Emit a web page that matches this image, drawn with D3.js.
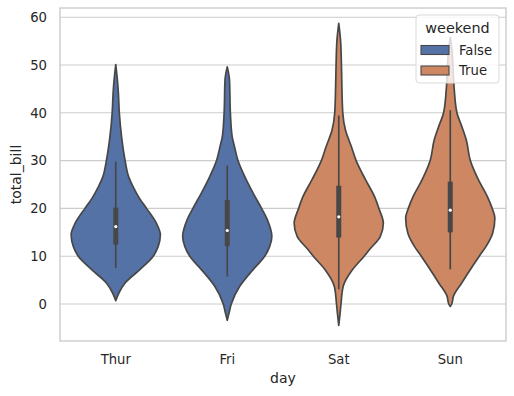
<!DOCTYPE html>
<html><head><meta charset="utf-8">
<script src="https://cdn.jsdelivr.net/npm/d3@7"></script>
<style>body{margin:0;background:#fff}svg{display:block;font-family:"DejaVu Sans",sans-serif}</style>
</head><body><svg id="c" width="514" height="396"></svg>
<script>
const days = ["Thur", "Fri", "Sat", "Sun"];
const weekend = [false, false, true, true];
const hueLevels = ["False", "True"];
const yTicks = [0, 10, 20, 30, 40, 50, 60];
// violin profiles: [total_bill, relative density]
const thurProfile = [[50.1,0],[46,0.045],[43.9,0.06],[40,0.08],[35,0.13],[30,0.21],[26.6,0.29],[24.5,0.39],[22,0.54],[20,0.69],[16.9,0.91],[14.5,1.0],[12,0.95],[10,0.84],[7.2,0.54],[4.4,0.21],[2.3,0.07],[0.7,0]];
const friProfile = [[49.6,0],[46.9,0.05],[40,0.07],[35,0.11],[33,0.16],[30,0.24],[26.7,0.39],[23.2,0.58],[20,0.77],[17.6,0.9],[14.1,1.0],[12,0.95],[10,0.84],[7.2,0.58],[3.7,0.28],[0,0.09],[-1.9,0.04],[-3.4,0]];
const satProfile = [[58.7,0],[55.2,0.04],[50,0.06],[45.5,0.07],[40,0.09],[36.4,0.15],[33,0.28],[30,0.39],[26,0.6],[22.5,0.8],[20,0.9],[16.9,1.0],[14.1,0.93],[11.4,0.69],[10,0.57],[7.2,0.31],[3.7,0.1],[0,0.05],[-1.9,0.03],[-4.5,0]];
const sunProfile = [[55.8,0],[53,0.04],[50,0.06],[44.8,0.09],[40,0.15],[37.1,0.26],[34.3,0.36],[30,0.45],[26,0.63],[22.5,0.83],[20,0.94],[18,1.0],[14.8,0.95],[12,0.8],[10,0.65],[6.5,0.4],[4.3,0.25],[1.6,0.07],[0,0.035],[-0.5,0]];
const profiles = [thurProfile, friProfile, satProfile, sunProfile];
// inner box stats
const q1 = [12.44, 12.1, 13.9, 14.99];
const medians = [16.2, 15.38, 18.24, 19.63];
const q3 = [20.16, 21.75, 24.74, 25.6];
const whiskerLow = [7.51, 5.75, 3.07, 7.25];
const whiskerHigh = [29.8, 28.97, 39.42, 40.55];

const colors = {"False": "#5572a6", "True": "#cd8863"};
const edge = "#474747";
const textCol = "#262626";
const grid = "#cccccc";

const svg = d3.select("#c");
const L = 60, R = 506, T = 8, B = 341;
const x = d3.scaleBand().domain(days).range([L, R]).padding(0);
const y = d3.scaleLinear().domain([-7.74, 61.92]).range([B, T]);
const w = d3.scaleLinear().domain([0, 1]).range([0, x.bandwidth() * 0.4]);

// grid
svg.append("g").selectAll("line").data(yTicks).join("line")
  .attr("x1", L).attr("x2", R).attr("y1", d => y(d)).attr("y2", d => y(d))
  .attr("stroke", grid).attr("stroke-width", 1.1);

// y axis labels
const yAxis = d3.axisLeft(y).tickValues(yTicks).tickSize(0).tickPadding(13);
const gy = svg.append("g").attr("transform", `translate(${L},0)`).call(yAxis);
gy.select(".domain").remove();
gy.selectAll("text").attr("fill", textCol).attr("font-size", 13.2).attr("font-family", "DejaVu Sans");

const xAxis = d3.axisBottom(x).tickSize(0).tickPadding(14);
const gx = svg.append("g").attr("transform", `translate(0,${B})`).call(xAxis);
gx.select(".domain").remove();
gx.selectAll("text").attr("fill", textCol).attr("font-size", 13.2).attr("font-family", "DejaVu Sans");

// violins
const area = d3.area().curve(d3.curveMonotoneY);
days.forEach((day, i) => {
  const cx = x(day) + x.bandwidth() / 2;
  const g = svg.append("g");
  area.y(d => y(d[0])).x0(d => cx - w(d[1])).x1(d => cx + w(d[1]));
  g.append("path").attr("d", area(profiles[i]))
    .attr("fill", colors[weekend[i] ? "True" : "False"])
    .attr("stroke", edge).attr("stroke-width", 1.7).attr("stroke-linejoin", "round");
  g.append("line").attr("x1", cx).attr("x2", cx)
    .attr("y1", y(whiskerLow[i])).attr("y2", y(whiskerHigh[i]))
    .attr("stroke", edge).attr("stroke-width", 1.7);
  g.append("line").attr("x1", cx).attr("x2", cx)
    .attr("y1", y(q1[i])).attr("y2", y(q3[i]))
    .attr("stroke", edge).attr("stroke-width", 5);
  g.append("circle").attr("cx", cx).attr("cy", y(medians[i])).attr("r", 1.6)
    .attr("fill", "#ffffff");
});

// frame
svg.append("rect").attr("x", L).attr("y", T).attr("width", R - L).attr("height", B - T)
  .attr("fill", "none").attr("stroke", grid).attr("stroke-width", 1.4);

// axis titles
svg.append("text").attr("x", (L + R) / 2).attr("y", 383).attr("text-anchor", "middle")
  .attr("fill", textCol).attr("font-size", 14).text("day");
svg.append("text").attr("transform", `translate(21,${(T + B) / 2}) rotate(-90)`)
  .attr("text-anchor", "middle").attr("fill", textCol).attr("font-size", 14).text("total_bill");

// legend
const lg = svg.append("g");
lg.append("rect").attr("x", 416).attr("y", 15).attr("width", 83).attr("height", 68).attr("rx", 3)
  .attr("fill", "#ffffff").attr("fill-opacity", 0.8).attr("stroke", "#d9d9d9").attr("stroke-width", 1);
lg.append("text").attr("x", 457.5).attr("y", 33).attr("text-anchor", "middle")
  .attr("fill", textCol).attr("font-size", 14.4).text("weekend");
hueLevels.forEach((h, i) => {
  const yy = 45.5 + i * 20.5;
  lg.append("rect").attr("x", 421).attr("y", yy).attr("width", 28).attr("height", 9)
    .attr("fill", colors[h]).attr("stroke", edge).attr("stroke-width", 1.1);
  lg.append("text").attr("x", 459).attr("y", yy + 9).attr("fill", textCol)
    .attr("font-size", 13.2).text(h);
});
</script></body></html>
